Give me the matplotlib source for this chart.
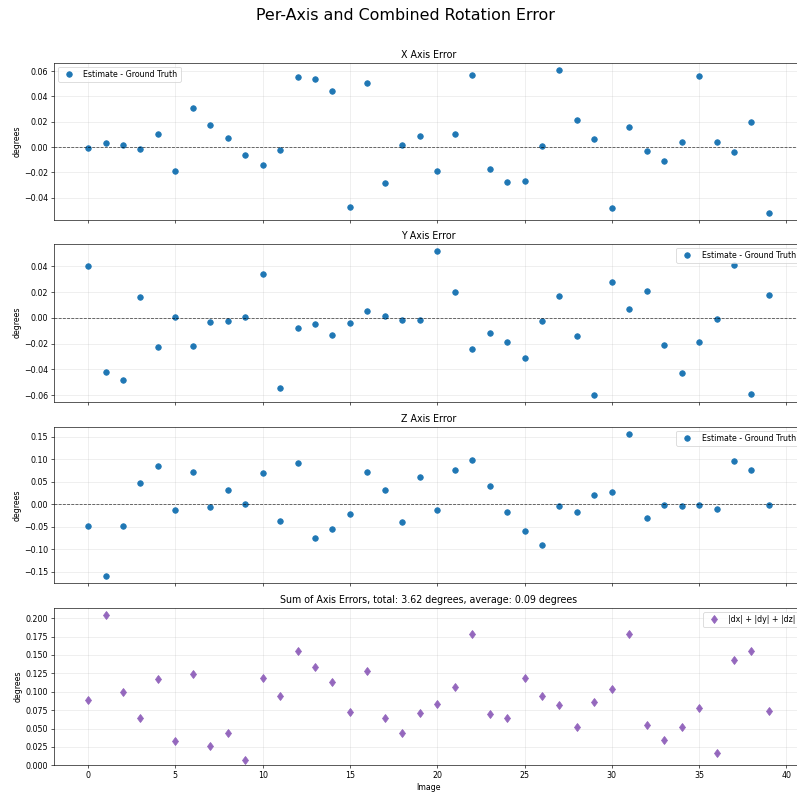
"""Per-axis and combined rotation error plot"""

import numpy as np
import matplotlib
matplotlib.use("Agg")
import matplotlib.pyplot as plt
from matplotlib.ticker import MultipleLocator, FormatStrFormatter

# values (degrees)
images = list(range(40))

x_err = [-0.0005, 0.003, 0.002, -0.0016, 0.010, -0.0187, 0.031, 0.0176, 0.007, -0.006,
         -0.014, -0.0024, 0.055, 0.0537, 0.0445, -0.047, 0.051, -0.0287, 0.0016, 0.009,
         -0.019, 0.010, 0.057, -0.017, -0.028, -0.027, 0.0005, 0.061, 0.0216, 0.006,
         -0.048, 0.016, -0.003, -0.011, 0.004, 0.056, 0.004, -0.004, 0.020, -0.052]

y_err = [0.040, -0.042, -0.048, 0.016, -0.023, 0.001, -0.0216, -0.003, -0.0023, 0.0008,
         0.0338, -0.0545, -0.008, -0.0044, -0.013, -0.0036, 0.0057, 0.0016, -0.0013, -0.0016,
         0.052, 0.020, -0.024, -0.012, -0.019, -0.031, -0.0023, 0.0169, -0.0138, -0.0595,
         0.0278, 0.007, 0.021, -0.021, -0.043, -0.0187, -0.001, 0.0408, -0.059, 0.018]

z_err = [-0.047, -0.159, -0.049, 0.047, 0.0846, -0.0118, 0.0713, -0.005, 0.033, 0.000,
         0.0706, -0.036, 0.092, -0.0757, -0.055, -0.0206, 0.0713, 0.033, -0.040, 0.061,
         -0.013, 0.077, 0.0985, 0.041, -0.017, -0.060, -0.090, -0.003, -0.016, 0.020,
         0.028, 0.157, -0.030, -0.001, -0.004, -0.002, -0.010, 0.097, 0.0765, -0.002]

sum_err = [0.0886, 0.204, 0.100, 0.0648, 0.1178, 0.0329, 0.1242, 0.0265, 0.0434, 0.0078,
           0.1187, 0.094, 0.1557, 0.134, 0.1132, 0.0721, 0.1279, 0.0639, 0.0443, 0.0717,
           0.084, 0.1068, 0.179, 0.0703, 0.0648, 0.1192, 0.0936, 0.0822, 0.052, 0.0854,
           0.1037, 0.179, 0.0553, 0.0342, 0.0525, 0.0781, 0.0169, 0.1425, 0.1548, 0.074]

total = 3.62
average = 0.09

W, H = 797, 793
DPI = 57
fig = plt.figure(figsize=(W/DPI, H/DPI), dpi=DPI)

# axes boxes in pixels (left, top, right, bottom); right edge runs past the figure
boxes = [(54, 62.7, 803, 220), (54, 243.7, 803, 401.7),
         (54, 426.7, 803, 583), (54, 608, 803, 765.3)]
axes = []
for i, (l, t, r, b) in enumerate(boxes):
    rect = [l/W, 1-b/H, (r-l)/W, (b-t)/H]
    if i == 0:
        ax = fig.add_axes(rect)
    else:
        ax = fig.add_axes(rect, sharex=axes[0])
    axes.append(ax)

panels = [(x_err, "X Axis Error", "upper left"),
          (y_err, "Y Axis Error", "upper right"),
          (z_err, "Z Axis Error", "upper right")]

for ax, (vals, title, loc) in zip(axes[:3], panels):
    ax.plot(images, vals, 'o', color='#1f77b4', ms=7, label='Estimate - Ground Truth')
    ax.axhline(0, color='black', ls='--', lw=1, alpha=0.7)
    ax.set_title(title)
    ax.set_ylabel("degrees")
    ax.legend(loc=loc)
    ax.grid(True, alpha=0.3)
    ax.tick_params(labelbottom=False)

ax = axes[3]
ax.plot(images, sum_err, 'd', color='#9467bd', ms=8, label='|dx| + |dy| + |dz|')
ax.set_title("Sum of Axis Errors, total: %.2f degrees, average: %.2f degrees" % (total, average))
ax.set_ylabel("degrees")
ax.set_xlabel("Image")
ax.legend(loc='upper right')
ax.grid(True, alpha=0.3)
ax.set_ylim(bottom=0)
ax.yaxis.set_major_locator(MultipleLocator(0.025))
ax.yaxis.set_major_formatter(FormatStrFormatter('%.3f'))

fig.suptitle("Per-Axis and Combined Rotation Error", fontsize=20, x=0.509, y=0.99)

fig.savefig("out.png", dpi=DPI)
